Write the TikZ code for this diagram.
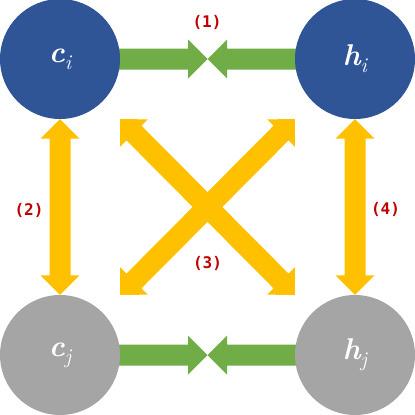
\documentclass[tikz,border=0pt]{standalone}
\usepackage{fontspec}
\newfontfamily\labfont{DejaVu Sans Mono}
\usetikzlibrary{calc,backgrounds}
\definecolor{nblue}{HTML}{2F5597}
\definecolor{ngray}{HTML}{A5A5A5}
\definecolor{ngreen}{HTML}{70AD47}
\definecolor{nyellow}{HTML}{FFC000}
\definecolor{nred}{HTML}{C00000}
\newcommand{\subx}[1]{\raisebox{-7pt}{\fontsize{21}{21}\selectfont\mdseries\itshape #1}}
\newcommand{\fatsingle}[3]{%
  \coordinate (fatA) at (#2);
  \coordinate (fatB) at (#3);
  \coordinate (fatH) at ($(fatB)!19.5pt!(fatA)$);
  \fill[#1] ($(fatA)!10.5pt!90:(fatB)$) -- ($(fatH)!10.5pt!90:(fatB)$)
    -- ($(fatH)!19.5pt!90:(fatB)$) -- (fatB) -- ($(fatH)!19.5pt!-90:(fatB)$)
    -- ($(fatH)!10.5pt!-90:(fatB)$) -- ($(fatA)!10.5pt!-90:(fatB)$) -- cycle;}
\newcommand{\fatdouble}[3]{%
  \coordinate (fatA) at (#2);
  \coordinate (fatB) at (#3);
  \coordinate (fatH) at ($(fatB)!19.5pt!(fatA)$);
  \coordinate (fatG) at ($(fatA)!19.5pt!(fatB)$);
  \fill[#1] (fatA) -- ($(fatG)!19.5pt!90:(fatB)$) -- ($(fatG)!10.5pt!90:(fatB)$)
    -- ($(fatH)!10.5pt!90:(fatB)$) -- ($(fatH)!19.5pt!90:(fatB)$) -- (fatB)
    -- ($(fatH)!19.5pt!-90:(fatB)$) -- ($(fatH)!10.5pt!-90:(fatB)$)
    -- ($(fatG)!10.5pt!-90:(fatB)$) -- ($(fatG)!19.5pt!-90:(fatB)$) -- cycle;}
\tikzset{
  ball/.style={circle, minimum size=120pt, inner sep=0pt, text=white,
    font=\fontsize{30}{30}\selectfont\bfseries\itshape},
  bluball/.style={ball, fill=nblue},
  grayball/.style={ball, fill=ngray},
  lab/.style={text=nred, font=\labfont\bfseries\fontsize{16}{17}\selectfont, inner sep=0pt},
}
\begin{document}
\begin{tikzpicture}[x=1pt,y=-1pt]
\useasboundingbox (0,0) rectangle (415,415);
\node[bluball] (ci) at (60,59) {c\subx{i}};
\node[bluball] (hi) at (355,59) {h\subx{i}};
\node[grayball] (cj) at (60,355) {c\subx{j}};
\node[grayball] (hj) at (355,355) {h\subx{j}};
\coordinate (m1) at (207.5,59);
\coordinate (m2) at (207.5,355);
\coordinate (tl) at (ci.east |- ci.south);
\coordinate (tr) at (hi.west |- hi.south);
\coordinate (bl) at (cj.east |- cj.north);
\coordinate (br) at (hj.west |- hj.north);
\begin{scope}[on background layer]
\fatsingle{ngreen}{ci.center}{m1}
\fatsingle{ngreen}{hi.center}{m1}
\fatsingle{ngreen}{cj.center}{m2}
\fatsingle{ngreen}{hj.center}{m2}
\fatdouble{nyellow}{ci.south}{cj.north}
\fatdouble{nyellow}{hi.south}{hj.north}
\fatdouble{nyellow}{tl}{br}
\fatdouble{nyellow}{tr}{bl}
\end{scope}
\node[lab] (l1) at (207,22) {(1)};
\node[lab] (l2) at (29,210) {(2)};
\node[lab] (l3) at (207.5,263.5) {(3)};
\node[lab] (l4) at (385.5,209) {(4)};
\end{tikzpicture}
\end{document}
